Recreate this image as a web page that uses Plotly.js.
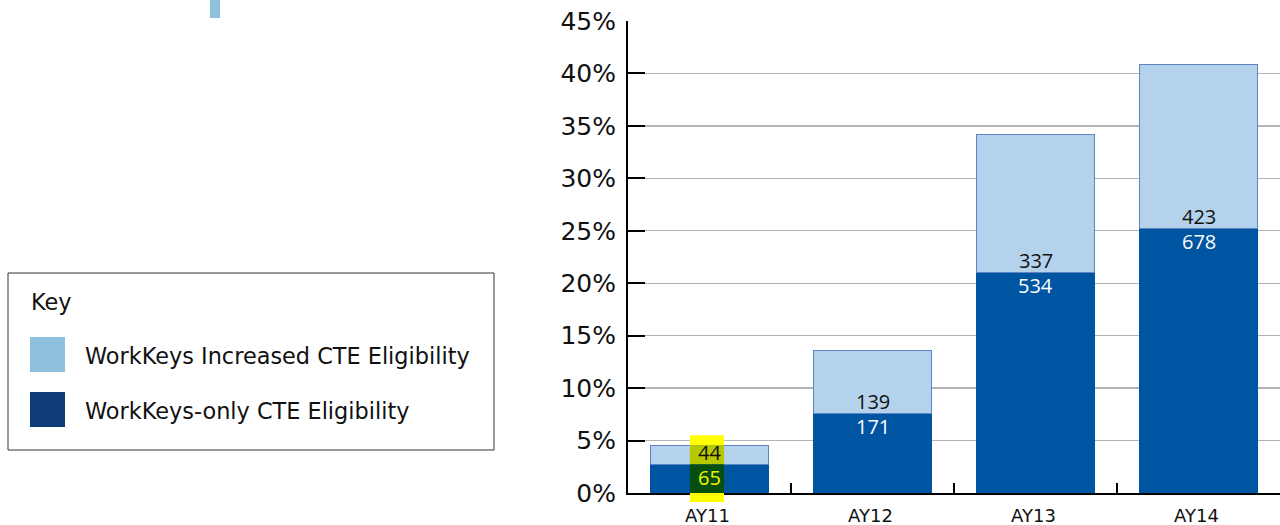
<!DOCTYPE html>
<html>
<head>
<meta charset="utf-8">
<script src="https://cdn.plot.ly/plotly-3.0.1.min.js"></script>
<style>html,body{margin:0;padding:0;background:#fff;}#chart{width:1280px;height:525px;}</style>
</head>
<body>
<div id="chart"></div>
<script>
// Data
const categories = ['AY11', 'AY12', 'AY13', 'AY14'];
const onlyPct = [2.75, 7.6, 21.05, 25.25];        // WorkKeys-only CTE Eligibility (%)
const increasedPct = [1.8, 6.0, 13.15, 15.65];    // WorkKeys Increased CTE Eligibility (%)
const onlyCounts = [65, 171, 534, 678];
const increasedCounts = [44, 139, 337, 423];
const yTicks = [0, 5, 10, 15, 20, 25, 30, 35, 40, 45];
const seriesNames = ['WorkKeys Increased CTE Eligibility', 'WorkKeys-only CTE Eligibility'];

// layout geometry
const W = 1280, H = 525;
const M = {l: 628, r: 0, t: 21, b: 32};
const plotW = W - M.l - M.r, plotH = H - M.t - M.b;
const px = x => (x - M.l) / plotW;
const py = y => (H - M.b - y) / plotH;

const traces = [
  {
    type: 'bar', name: seriesNames[1], x: categories, y: onlyPct,
    marker: {color: '#0055a2', line: {color: '#0055a2', width: 0}},
    width: 0.724, hoverinfo: 'skip', showlegend: false
  },
  {
    type: 'bar', name: seriesNames[0], x: categories, y: increasedPct,
    marker: {color: '#b4d2ec', line: {color: '#5b86c2', width: 1}},
    width: 0.724, hoverinfo: 'skip', showlegend: false
  }
];

const annotations = [];
categories.forEach((c, i) => {
  annotations.push({
    x: c, y: onlyPct[i], xref: 'x', yref: 'y', text: String(increasedCounts[i]),
    showarrow: false, yanchor: 'bottom', yshift: -4,
    font: {family: 'Open Sans, sans-serif', size: 20, color: '#111'}
  });
  annotations.push({
    x: c, y: onlyPct[i], xref: 'x', yref: 'y', text: String(onlyCounts[i]),
    showarrow: false, yanchor: 'top', yshift: 2,
    font: {family: 'Open Sans, sans-serif', size: 20, color: i === 0 ? '#f2f200' : '#ffffff'}
  });
});

// Legend (Key box)
const keyFont = {family: 'DejaVu Sans, sans-serif', size: 22.4, color: '#111'};
annotations.push({xref: 'paper', yref: 'paper', x: px(29), y: py(302), xanchor: 'left', yanchor: 'middle',
  text: 'Key', showarrow: false, font: keyFont});
annotations.push({xref: 'paper', yref: 'paper', x: px(83), y: py(356), xanchor: 'left', yanchor: 'middle',
  text: seriesNames[0], showarrow: false, font: keyFont});
annotations.push({xref: 'paper', yref: 'paper', x: px(83), y: py(411), xanchor: 'left', yanchor: 'middle',
  text: seriesNames[1], showarrow: false, font: keyFont});

const top0 = onlyPct[0] + increasedPct[0];
const hx0 = -0.12, hx1 = 0.089;
const shapes = [
  {type: 'rect', xref: 'paper', yref: 'paper', x0: px(8), x1: px(494), y0: py(450), y1: py(273),
   line: {color: '#333', width: 1}, fillcolor: 'rgba(0,0,0,0)', layer: 'above'},
  {type: 'rect', xref: 'paper', yref: 'paper', x0: px(30), x1: px(65), y0: py(372), y1: py(337),
   line: {width: 0}, fillcolor: '#8fc0dd', layer: 'above'},
  {type: 'rect', xref: 'paper', yref: 'paper', x0: px(30), x1: px(65), y0: py(427), y1: py(392),
   line: {width: 0}, fillcolor: '#113c7a', layer: 'above'},
  // top-left cropped mark
  {type: 'rect', xref: 'paper', yref: 'paper', x0: px(210), x1: px(220), y0: py(18), y1: py(-2),
   line: {width: 0}, fillcolor: '#8fc0dd', layer: 'above'},
  // highlight on AY11 labels
  {type: 'rect', xref: 'x', yref: 'y', x0: hx0, x1: hx1, y0: top0, y1: top0 + 0.95,
   line: {width: 0}, fillcolor: '#ffff00', layer: 'above'},
  {type: 'rect', xref: 'x', yref: 'y', x0: hx0, x1: hx1, y0: onlyPct[0], y1: top0,
   line: {width: 0}, fillcolor: '#b6c800', layer: 'above'},
  {type: 'rect', xref: 'x', yref: 'y', x0: hx0, x1: hx1, y0: 0, y1: onlyPct[0],
   line: {width: 0}, fillcolor: '#064f10', layer: 'above'},
  {type: 'rect', xref: 'x', yref: 'paper', x0: hx0, x1: hx1, y0: py(502), y1: 0,
   line: {width: 0}, fillcolor: '#ffff00', layer: 'above'}
];

const layout = {
  width: W, height: H,
  margin: M,
  paper_bgcolor: '#fff', plot_bgcolor: '#fff',
  barmode: 'stack',
  bargap: 0.276,
  showlegend: false,
  xaxis: {
    type: 'category', range: [-0.5, 3.5],
    showline: true, linecolor: '#000', linewidth: 2,
    ticks: 'inside', ticklen: 10, tickwidth: 1.5, tickcolor: '#000',
    tickson: 'boundaries', showgrid: false,
    tickfont: {family: 'DejaVu Sans, sans-serif', size: 18, color: '#111'},
    ticklabelstandoff: 5, ticklabelshift: -2, fixedrange: true
  },
  yaxis: {
    range: [0, 45], tickvals: yTicks, ticktext: yTicks.map(v => v + '%'),
    showline: true, linecolor: '#000', linewidth: 2,
    ticks: 'inside', ticklen: 17, tickwidth: 2, tickcolor: '#000',
    showgrid: true, gridcolor: '#b3b3b3', gridwidth: 1.3,
    zeroline: false,
    tickfont: {family: 'DejaVu Sans, sans-serif', size: 25, color: '#111'},
    ticklabelstandoff: 5, fixedrange: true
  },
  annotations: annotations,
  shapes: shapes
};

Plotly.newPlot('chart', traces, layout, {displayModeBar: false, staticPlot: true});
</script>
</body>
</html>
